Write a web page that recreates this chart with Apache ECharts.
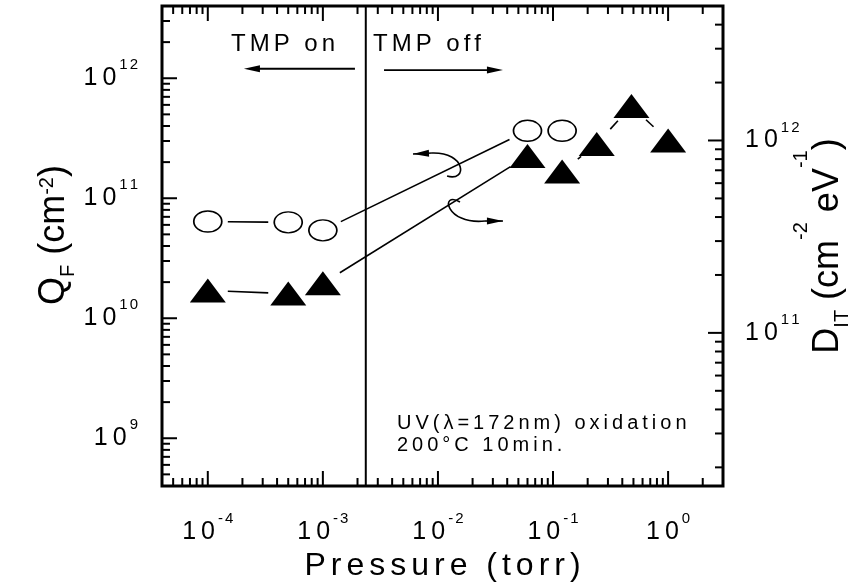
<!DOCTYPE html>
<html lang="en">
<head>
<meta charset="UTF-8">
<title>Q_F and D_IT vs pressure</title>
<script src="https://cdn.jsdelivr.net/npm/echarts@6/dist/echarts.min.js"></script>
<style>
    html, body { margin: 0; padding: 0; background: #fff; }
    #chart { width: 862px; height: 584px; }
</style>
</head>
<body>
<div id="chart"></div>
<script type="text/javascript">

    // data
    var pressQF  = [1e-4, 5e-4, 1e-3, 0.06, 0.12];
    var valQF    = [6.4e10, 6.3e10, 5.4e10, 3.65e11, 3.65e11];
    var pressDIT = [1e-4, 5e-4, 1e-3, 0.06, 0.12, 0.24, 0.48, 1.0];
    var valDIT   = [1.66e11, 1.60e11, 1.81e11, 8.3e11, 6.9e11, 9.6e11, 1.51e12, 1.0e12];

    // axis ranges
    var xRange   = [4e-5, 3];
    var qfRange  = [4e8, 4e12];
    var ditRange = [1.6e10, 5e12];

    // annotations, in data coordinates (left axis)
    var pumpSwitch = 2.36e-3;
    var straightArrows = [
        [[1.9e-3, 1.2e12], [2.06e-4, 1.2e12]],
        [[3.4e-3, 1.17e12], [3.67e-2, 1.17e12]]
    ];
    var curvedArrows = [
        // start, ctrl1, ctrl2, end, tip
        [[1.2e-2, 1.53e11], [1.82e-2, 1.365e11], [1.754e-2, 2.43e11], [8.87e-3, 2.38e11], [6.07e-3, 2.34e11]],
        [[1.554e-2, 9.3e10], [1.042e-2, 1.17e11], [1.15e-2, 5.98e10], [2.564e-2, 6.46e10], [3.67e-2, 6.46e10]]
    ];

    var FONT = '"Liberation Sans", Arial, sans-serif';
    var GAP = 20;

    function pairs(xs, ys) {
        var out = [];
        for (var i = 0; i < xs.length; i++) out.push([xs[i], ys[i]]);
        return out;
    }
    function segments(xs, ys) {
        var out = [];
        for (var i = 0; i < xs.length - 1; i++) out.push([xs[i], ys[i], xs[i + 1], ys[i + 1]]);
        return out;
    }
    function logTicks(r) {
        var out = [];
        for (var e = Math.floor(Math.log10(r[0])); e <= Math.ceil(Math.log10(r[1])); e++) {
            for (var m = 1; m <= 9; m++) {
                var v = m * Math.pow(10, e);
                if (v > r[0] * 1.0001 && v < r[1] * 0.9999) out.push(v);
            }
        }
        return out;
    }
    function isDecade(v) {
        var l = Math.log10(v);
        return Math.abs(l - Math.round(l)) < 1e-6;
    }
    // letter spaced text through rich tokens
    function spaced(str, st) {
        var s = '';
        for (var i = 0; i < str.length; i++) {
            s += '{' + (i === str.length - 1 ? st + 'l' : st) + '|' + str[i] + '}';
        }
        return s;
    }
    function spacedRich(name, size, gap, lh) {
        var r = {};
        r[name] = {fontFamily: FONT, fontSize: size, color: '#000', lineHeight: lh, padding: [0, gap, 0, 0]};
        r[name + 'l'] = {fontFamily: FONT, fontSize: size, color: '#000', lineHeight: lh};
        return r;
    }

    var tickRich = {
        b:  {fontFamily: FONT, fontSize: 25, color: '#000', lineHeight: 26, padding: [0, 5, 0, 0]},
        bl: {fontFamily: FONT, fontSize: 25, color: '#000', lineHeight: 26, padding: [0, 3, 0, 0]},
        s:  {fontFamily: FONT, fontSize: 15, color: '#000', lineHeight: 15, padding: [0, 2, 26, 0]},
        sl: {fontFamily: FONT, fontSize: 15, color: '#000', lineHeight: 15, padding: [0, 0, 26, 0]}
    };
    function decadeLabel(v) {
        if (!isDecade(v)) return '';
        return '{b|1}{bl|0}' + spaced(String(Math.round(Math.log10(v))), 's');
    }

    function titleRich(supRaise) {
        return {
            m:   {fontFamily: FONT, fontSize: 36, color: '#000', lineHeight: 40, padding: [0, 0, 6, 0], verticalAlign: 'bottom'},
            sub: {fontFamily: FONT, fontSize: 20, color: '#000', lineHeight: 20, verticalAlign: 'bottom'},
            sup: {fontFamily: FONT, fontSize: 20, color: '#000', lineHeight: 20, padding: [0, 0, supRaise, 0], verticalAlign: 'bottom'}
        };
    }

    function lineEl(x1, y1, x2, y2, w) {
        return {type: 'line', shape: {x1: x1, y1: y1, x2: x2, y2: y2}, style: {stroke: '#000', lineWidth: w}};
    }
    function headEl(from, tip) {
        var dx = tip[0] - from[0], dy = tip[1] - from[1];
        var len = Math.sqrt(dx * dx + dy * dy), ux = dx / len, uy = dy / len;
        var L = 16, W = 3.5;
        var bx = tip[0] - ux * L, by = tip[1] - uy * L;
        return {type: 'polygon', shape: {points: [tip, [bx - uy * W, by + ux * W], [bx + uy * W, by - ux * W]]},
            style: {fill: '#000'}};
    }

    function renderSegment(params, api) {
        var a = api.coord([api.value(0), api.value(1)]);
        var b = api.coord([api.value(2), api.value(3)]);
        var dx = b[0] - a[0], dy = b[1] - a[1];
        var len = Math.sqrt(dx * dx + dy * dy);
        if (len <= 2 * GAP) return null;
        var ux = dx / len, uy = dy / len;
        return lineEl(a[0] + ux * GAP, a[1] + uy * GAP, b[0] - ux * GAP, b[1] - uy * GAP, 1.6);
    }
    function renderXTick(params, api) {
        var cs = params.coordSys;
        var x = api.coord([api.value(0), qfRange[0]])[0];
        var len = isDecade(api.value(0)) ? 15 : 8;
        var yb = cs.y + cs.height;
        return {type: 'group', children: [
            lineEl(x, yb, x, yb - len, 2),
            lineEl(x, cs.y, x, cs.y + len, 2)
        ]};
    }
    function renderYTick(side) {
        return function (params, api) {
            var cs = params.coordSys;
            var y = api.coord([xRange[0], api.value(1)])[1];
            var len = isDecade(api.value(1)) ? 15 : 8;
            var x0 = side === 'left' ? cs.x : cs.x + cs.width;
            var x1 = side === 'left' ? x0 + len : x0 - len;
            return lineEl(x0, y, x1, y, 2);
        };
    }
    function renderNotes(params, api) {
        var kids = [];
        var top = api.coord([pumpSwitch, qfRange[1]]);
        var bot = api.coord([pumpSwitch, qfRange[0]]);
        kids.push(lineEl(top[0], top[1], bot[0], bot[1], 2));
        straightArrows.forEach(function (ar) {
            var p0 = api.coord(ar[0]), p1 = api.coord(ar[1]);
            var dx = p1[0] - p0[0], dy = p1[1] - p0[1], l = Math.sqrt(dx * dx + dy * dy);
            kids.push(lineEl(p0[0], p0[1], p1[0] - dx / l * 12, p1[1] - dy / l * 12, 1.8));
            kids.push(headEl(p0, p1));
        });
        curvedArrows.forEach(function (ar) {
            var p = ar.map(function (d) { return api.coord(d); });
            kids.push({type: 'bezierCurve', shape: {x1: p[0][0], y1: p[0][1], cpx1: p[1][0], cpy1: p[1][1],
                cpx2: p[2][0], cpy2: p[2][1], x2: p[3][0], y2: p[3][1]},
                style: {stroke: '#000', lineWidth: 1.6, fill: null}});
            kids.push(lineEl(p[3][0], p[3][1], p[4][0], p[4][1], 1.6));
            kids.push(headEl(p[3], p[4]));
        });
        return {type: 'group', children: kids};
    }

    var xTickData = logTicks(xRange).map(function (v) { return [v, qfRange[0]]; });
    var qfTickData = logTicks(qfRange).map(function (v) { return [xRange[0], v]; });
    var ditTickData = logTicks(ditRange).map(function (v) { return [xRange[0], v]; });

    function noteText(str, x, yMid, size, gap, st) {
        return {type: 'text', left: x, top: yMid - (size + 2) / 2, silent: true,
            style: {text: spaced(str, st), rich: spacedRich(st, size, gap, size + 2)}};
    }

    var myChart = echarts.init(document.getElementById('chart'));

    var option = {
        animation: false,
        backgroundColor: '#fff',
        grid: {left: 162, top: 6, right: 139, bottom: 98, show: true, borderColor: '#000', borderWidth: 3,
            outerBoundsMode: 'none', containLabel: false},
        xAxis: {
            type: 'log', logBase: 10, min: xRange[0], max: xRange[1],
            axisLine: {show: false}, axisTick: {show: false}, splitLine: {show: false},
            axisLabel: {margin: 33, formatter: decadeLabel, rich: tickRich},
            name: spaced('Pressure (torr)', 'x'), nameLocation: 'middle', nameGap: 63, nameMoveOverlap: false,
            nameTextStyle: {rich: spacedRich('x', 32, 5, 34)}
        },
        yAxis: [
            {
                type: 'log', logBase: 10, min: qfRange[0], max: qfRange[1], position: 'left',
                axisLine: {show: false}, axisTick: {show: false}, splitLine: {show: false},
                axisLabel: {margin: 24, formatter: decadeLabel, rich: tickRich},
                name: '{m|Q}{sub|F}{m| (cm}{sup|-2}{m|)}', nameLocation: 'middle', nameGap: 84, nameRotate: 90,
                nameMoveOverlap: false,
                nameTextStyle: {rich: titleRich(21), padding: [0, 0, 0, 22]}
            },
            {
                type: 'log', logBase: 10, min: ditRange[0], max: ditRange[1], position: 'right',
                axisLine: {show: false}, axisTick: {show: false}, splitLine: {show: false},
                axisLabel: {margin: 22, formatter: decadeLabel, rich: tickRich},
                name: '{m|D}{sub|IT}{m| (cm}{sup|-2}{m| eV}{sup|-1}{m|)}', nameLocation: 'middle', nameGap: 89, nameRotate: 90,
                nameMoveOverlap: false,
                nameTextStyle: {rich: titleRich(41)}
            }
        ],
        graphic: [
            noteText('TMP on', 231, 45, 24, 4, 't'),
            noteText('TMP off', 373, 45, 24, 4, 't'),
            noteText('UV(λ=172nm) oxidation', 397, 424, 20, 4, 'u'),
            noteText('200°C 10min.', 397, 446, 20, 4, 'u')
        ],
        series: [
            {type: 'custom', name: 'xticks', silent: true, renderItem: renderXTick, data: xTickData},
            {type: 'custom', name: 'qfticks', silent: true, renderItem: renderYTick('left'), data: qfTickData},
            {type: 'custom', name: 'ditticks', silent: true, yAxisIndex: 1, renderItem: renderYTick('right'), data: ditTickData},
            {type: 'custom', name: 'notes', silent: true, renderItem: renderNotes, data: [[xRange[0], qfRange[0]]]},
            {type: 'custom', name: 'QF line', silent: true, renderItem: renderSegment, data: segments(pressQF, valQF)},
            {type: 'custom', name: 'DIT line', silent: true, yAxisIndex: 1, renderItem: renderSegment, data: segments(pressDIT, valDIT)},
            {
                type: 'scatter', name: 'QF', silent: true,
                symbol: 'path://M0,10 A10,10 0 1,1 20,10 A10,10 0 1,1 0,10 Z', symbolSize: [28, 21],
                itemStyle: {color: '#fff', borderColor: '#000', borderWidth: 1.5, opacity: 1},
                data: pairs(pressQF, valQF)
            },
            {
                type: 'scatter', name: 'DIT', silent: true, yAxisIndex: 1,
                symbol: 'triangle', symbolSize: [36, 24],
                itemStyle: {color: '#000', opacity: 1},
                data: pairs(pressDIT, valDIT)
            }
        ]
    };

    myChart.setOption(option);
</script>
</body>
</html>
